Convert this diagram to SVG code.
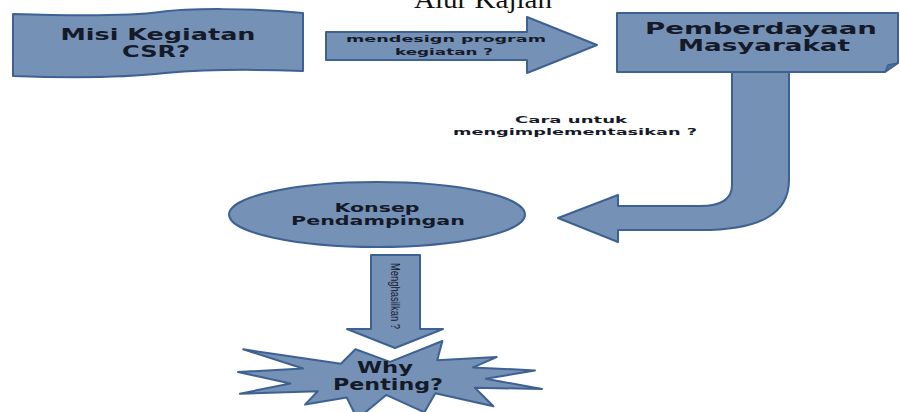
<svg xmlns="http://www.w3.org/2000/svg" width="900" height="412" viewBox="0 0 900 412">
<style>
.shape{fill:#7591b6;stroke:#3d6192;stroke-width:2;stroke-linejoin:round}
.lbl{font-family:"DejaVu Sans",Verdana,sans-serif;font-weight:bold;fill:#141a28;text-anchor:middle}
.big{font-size:15px}
.mid{font-size:12px}
.sm{font-size:9.5px}
</style>
<rect width="900" height="412" fill="#ffffff"/>
<text x="483" y="8" font-family="Liberation Serif,Times New Roman,serif" font-size="26" fill="#111" text-anchor="middle" textLength="138" lengthAdjust="spacingAndGlyphs">Alur Kajian</text>

<g id="connectors">
  <g id="arrow-design">
    <path class="shape" d="M326,32 L527,32 L527,17 L597,45 L527,73 L527,60 L326,60 Z"/>
    <text class="lbl sm" x="446" y="42" textLength="200" lengthAdjust="spacingAndGlyphs">mendesign program</text>
    <text class="lbl sm" x="444" y="55" textLength="98" lengthAdjust="spacingAndGlyphs">kegiatan ?</text>
  </g>
  <g id="arrow-implement">
    <path class="shape" d="M732,72 L789,72 L789,180 C789,214 760,230 700,230 L618,230 L618,242 L558,218 L618,195 L618,206 L700,206 C722,206 732,198 732,185 Z"/>
    <text class="lbl sm" x="571" y="123" textLength="112" lengthAdjust="spacingAndGlyphs">Cara untuk</text>
    <text class="lbl sm" x="575" y="135" textLength="244" lengthAdjust="spacingAndGlyphs">mengimplementasikan ?</text>
  </g>
  <g id="arrow-hasil">
    <path class="shape" d="M371,255 L420,255 L420,329 L443,329 L395,348 L347,329 L371,329 Z"/>
    <text transform="translate(390.5,296) rotate(90)" font-family="Liberation Sans,Arial,sans-serif" font-size="13" fill="#141a28" text-anchor="middle" textLength="66" lengthAdjust="spacingAndGlyphs">Menghasilkan ?</text>
  </g>
</g>

<g id="node-misi">
  <path class="shape" d="M13,14 C80,16 130,16 160,12 C190,8 250,8 303,13 L303,71 C250,69 200,70 165,73 C130,77 70,78 13,76 Z"/>
  <text class="lbl big" x="158" y="40" textLength="195" lengthAdjust="spacingAndGlyphs">Misi Kegiatan</text>
  <text class="lbl big" x="156" y="57" textLength="68" lengthAdjust="spacingAndGlyphs">CSR?</text>
</g>

<g id="node-pemberdayaan">
  <path class="shape" d="M617,13 L898,13 L898,63 L885,72 L617,72 Z"/>
  <path d="M885,72 L888,65 L898,63 Z" fill="#4e6f9c" stroke="#3d6192" stroke-width="1.5" stroke-linejoin="round"/>
  <text class="lbl big" x="761" y="34" textLength="232" lengthAdjust="spacingAndGlyphs">Pemberdayaan</text>
  <text class="lbl big" x="764" y="51" textLength="172" lengthAdjust="spacingAndGlyphs">Masyarakat</text>
</g>

<g id="node-konsep">
  <ellipse class="shape" cx="377" cy="214.5" rx="148" ry="32.5"/>
  <text class="lbl mid" x="377" y="212" textLength="85" lengthAdjust="spacingAndGlyphs">Konsep</text>
  <text class="lbl mid" x="378" y="225" textLength="174" lengthAdjust="spacingAndGlyphs">Pendampingan</text>
</g>

<g id="node-why">
  <path class="shape" d="M390,361.9 L442.4,341 L437.2,360.2 L496.7,357.1 L473.1,367.4 L534.9,370.4 L485.8,378.8 L542,389 L474.9,387.7 L493.4,406.3 L435.3,393.2 L424.4,412.3 L386.2,394.9 L357.4,419 L346.6,397.4 L305,404.6 L317.8,391.3 L239.9,393.7 L290.4,383.5 L238,372.1 L303.1,368.5 L243.2,349.3 L340.9,363.8 L355.5,349.3 Z"/>
  <text class="lbl big" x="385" y="373" textLength="56" lengthAdjust="spacingAndGlyphs">Why</text>
  <text class="lbl big" x="388" y="390" textLength="110" lengthAdjust="spacingAndGlyphs">Penting?</text>
</g>
</svg>
